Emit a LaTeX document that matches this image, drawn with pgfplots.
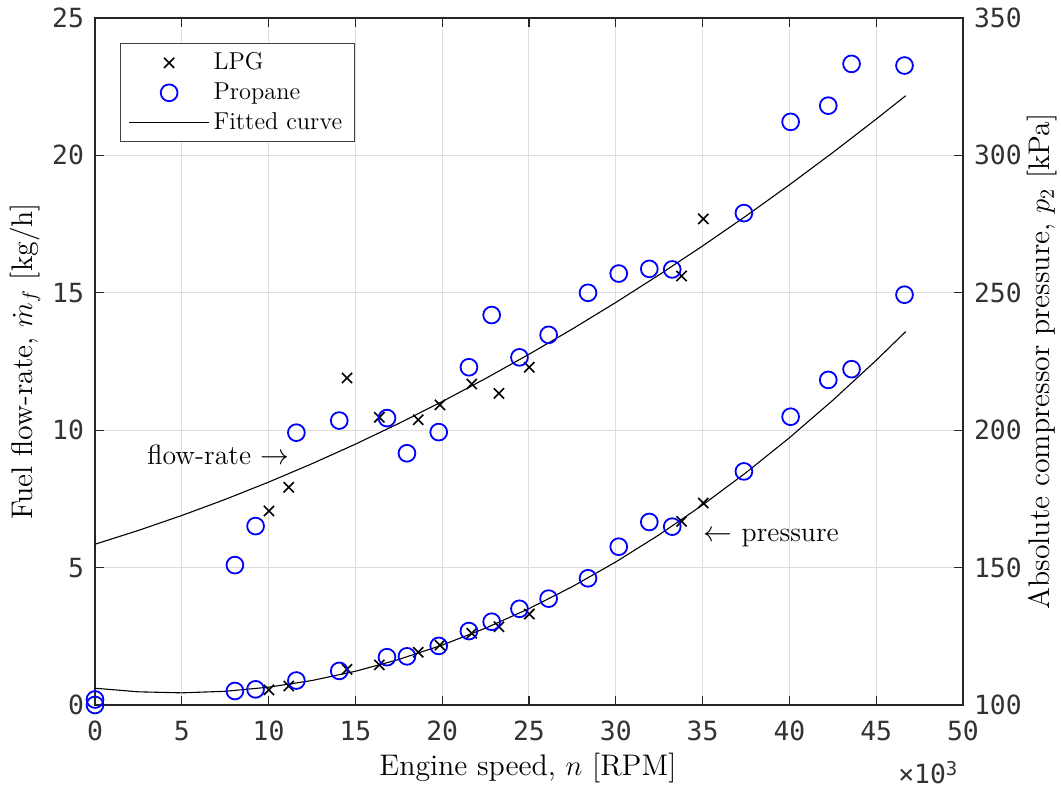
\documentclass[border=0pt]{standalone}
\usepackage{fontspec}
\usepackage{pgfplots}
\usepackage{pgfplotstable}
\pgfplotsset{compat=1.18}
\usetikzlibrary{calc}
\newfontfamily\tickfont{DejaVu Sans Mono}

% engine speed in 10^3 RPM, fuel flow-rate in kg/h
\pgfplotstableread{
n    mf
10.02 7.06
11.16 7.92
14.52 11.90
16.38 10.47
18.62 10.38
19.87 10.92
21.70 11.68
23.27 11.34
25.02 12.29
33.79 15.61
35.04 17.69
}\lpgflow
\pgfplotstableread{
n    mf
0.00 0.00
8.06 5.09
9.25 6.51
11.60 9.91
14.07 10.35
16.82 10.44
17.97 9.16
19.80 9.93
21.54 12.29
22.85 14.19
24.45 12.65
26.13 13.47
28.40 15.00
30.17 15.70
31.93 15.87
33.25 15.85
37.38 17.90
40.07 21.22
42.24 21.81
43.58 23.33
46.63 23.27
}\proflow
\pgfplotstableread{
n    mf
0.0 5.850
2.5 6.352
5.0 6.896
7.5 7.481
10.0 8.110
12.5 8.780
15.0 9.492
17.5 10.246
20.0 11.042
22.5 11.881
25.0 12.762
27.5 13.684
30.0 14.648
32.5 15.655
35.0 16.704
37.5 17.794
40.0 18.928
42.5 20.103
45.0 21.320
46.7 22.171
}\fitflow
% compressor pressure in kPa
\pgfplotstableread{
n    p
10.02 105.5
11.16 106.9
14.52 113.0
16.38 114.6
18.62 119.2
19.87 121.8
21.70 126.1
23.27 128.5
25.02 133.1
33.79 166.8
35.04 173.5
}\lpgpres
\pgfplotstableread{
n    p
0.00 102.0
8.06 105.1
9.25 105.7
11.60 108.9
14.07 112.4
16.82 117.4
17.97 117.7
19.80 121.5
21.54 126.9
22.85 130.3
24.45 135.0
26.13 138.7
28.40 146.1
30.17 157.6
31.93 166.6
33.25 164.9
37.38 185.0
40.07 204.9
42.24 218.3
43.58 222.2
46.63 249.3
}\propres
\pgfplotstableread{
n    p
0.0 106.10
2.5 104.79
5.0 104.42
7.5 104.98
10.0 106.48
12.5 108.91
15.0 112.27
17.5 116.57
20.0 121.80
22.5 127.96
25.0 135.06
27.5 143.09
30.0 152.05
32.5 161.95
35.0 172.78
37.5 184.55
40.0 197.24
42.5 210.88
45.0 225.44
46.7 235.88
}\fitpres

\pgfplotsset{
  common/.style={
    scale only axis, width=434pt, height=343.5pt,
    at={(0,0)}, anchor=south west,
    xmin=0, xmax=50,
    tick align=inside, major tick length=4.3pt,
    axis line style={black!85, line width=0.6pt},
    tick style={black!85, line width=0.6pt},
    ticklabel style={font=\tickfont\fontsize{13.2}{15}\selectfont, text=black!80},
    /pgf/number format/assume math mode=true,
    label style={font=\fontsize{14.9}{17}\selectfont, text=black},
  },
  lpg/.style={only marks, mark=x, mark size=3.6pt, black, line width=0.8pt},
  pro/.style={only marks, mark=o, mark size=4.2pt, blue, line width=0.9pt},
  fit/.style={black, line width=0.55pt, no marks},
}

\begin{document}
\begin{tikzpicture}
\begin{axis}[common, name=ax,
  ymin=0, ymax=25, ytick={0,5,...,25}, xtick={0,5,...,50},
  xtick pos=both, ytick pos=left,
  grid=major, grid style={black!13, line width=0.5pt},
  xticklabel style={yshift=-4.5pt},
  yticklabel style={xshift=-2pt},
  xlabel={Engine speed, $n$ [RPM]},
  ylabel={Fuel flow-rate, $\dot{m}_f$ [kg/h]},
  xlabel style={at={(axis description cs:0.4988,-0.0917)}, anchor=center},
  ylabel style={at={(axis description cs:-0.0806,0.5)}, anchor=center, rotate=0},
  legend style={at={(axis description cs:0.0288,0.9636)}, anchor=north west,
    draw=black!75, line width=0.6pt, fill=white,
    font=\fontsize{12.2}{14}\selectfont, inner xsep=4pt, inner ysep=2.6pt,
    row sep=1pt},
  legend cell align=left,
]
\addplot[lpg, legend image code/.code={\draw[mark repeat=2,mark phase=2] plot coordinates {(0pt,0pt) (20pt,0pt) (40pt,0pt)};}] table[x=n,y=mf] {\lpgflow};
\addlegendentry{LPG}
\addplot[pro, legend image code/.code={\draw[mark repeat=2,mark phase=2] plot coordinates {(0pt,0pt) (20pt,0pt) (40pt,0pt)};}] table[x=n,y=mf] {\proflow};
\addlegendentry{Propane}
\addplot[fit, legend image code/.code={\draw (0pt,0pt) -- (40pt,0pt);}] table[x=n,y=mf] {\fitflow};
\addlegendentry{Fitted curve}

\node[anchor=west, inner sep=0pt, font=\fontsize{13.9}{16}\selectfont] at (axis cs:3.0,9.1) {flow-rate $\rightarrow$};
\node[anchor=west, inner sep=0pt, font=\fontsize{13.9}{16}\selectfont] at (axis cs:35.05,6.08) {$\leftarrow$ pressure};
\end{axis}

\begin{axis}[common,
  ymin=100, ymax=350, ytick={100,150,...,350},
  axis y line*=right, axis x line=none,
  yticklabel style={xshift=2pt},
  ylabel={Absolute compressor pressure, $p_2$ [kPa]},
  ylabel style={at={(axis description cs:1.091,0.5)}, anchor=center, rotate=0},
]
\addplot[lpg] table[x=n,y=p] {\lpgpres};
\addplot[pro] table[x=n,y=p] {\propres};
\addplot[fit] table[x=n,y=p] {\fitpres};
\end{axis}

\node[anchor=base west, inner sep=0pt, font=\tickfont\fontsize{13.2}{15}\selectfont, text=black!80] at ($(ax.south west)!0.925!(ax.south east)+(0,-39.5pt)$) {×10\raisebox{0.6ex}{\fontsize{9.5}{10}\selectfont 3}};

\pgfresetboundingbox
\path ($(ax.south west)+(-47.5pt,-42.5pt)$) rectangle ($(ax.north east)+(49pt,9pt)$);
\end{tikzpicture}
\end{document}
